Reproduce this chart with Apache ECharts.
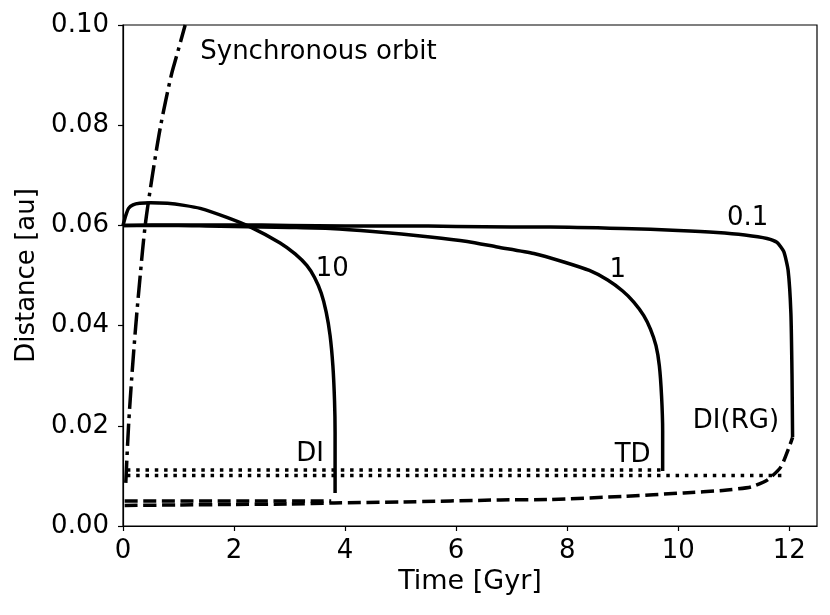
<!DOCTYPE html>
<html>
<head>
<meta charset="utf-8">
<script src="https://cdn.jsdelivr.net/npm/echarts@6.0.0/dist/echarts.min.js"></script>
<style>
  html, body { margin: 0; padding: 0; background: #fff; }
  #main { width: 830px; height: 615px; }
</style>
</head>
<body>
<div id="main"></div>
<script>
// orbital decay tracks, one per tidal efficiency
var x01 = [0, 1, 2, 3, 4, 5, 6, 7, 7.7, 9, 10, 10.7, 11.2, 11.6, 11.78, 11.9, 11.98, 12.03, 12.05, 12.06];
var y01 = [0.0600, 0.0601, 0.0601, 0.0600, 0.0599, 0.0599, 0.0598, 0.0597, 0.0597, 0.0594, 0.0590, 0.0586, 0.0581, 0.0574, 0.0566, 0.0548, 0.0510, 0.0424, 0.0300, 0.0177];

var x1 = [0, 0.5, 1, 1.5, 2, 2.5, 3, 3.73, 4.5, 5.53, 6.2, 6.74, 7.4, 7.94, 8.4, 8.73, 9.0, 9.2, 9.38, 9.5, 9.6, 9.66, 9.7, 9.72, 9.72];
var y1 = [0.0600, 0.0600, 0.0600, 0.0599, 0.0598, 0.0597, 0.0596, 0.0594, 0.0588, 0.0577, 0.0568, 0.0557, 0.0544, 0.0527, 0.0510, 0.0491, 0.0469, 0.0447, 0.0420, 0.0393, 0.0360, 0.0320, 0.0260, 0.0190, 0.0110];

var x10 = [0, 0.02, 0.05, 0.1, 0.18, 0.3, 0.5, 0.8, 1.1, 1.39, 1.87, 2.29, 2.83, 3.1, 3.31, 3.45, 3.57, 3.66, 3.73, 3.78, 3.81, 3.82, 3.82];
var y10 = [0.0600, 0.0608, 0.0620, 0.0634, 0.0641, 0.0644, 0.0645, 0.0644, 0.0640, 0.0634, 0.0616, 0.0597, 0.0565, 0.0543, 0.0520, 0.0496, 0.0465, 0.0427, 0.0380, 0.0320, 0.0250, 0.0186, 0.0066];

// synchronous orbit
var xSync = [0.05, 0.10, 0.16, 0.23, 0.31, 0.40, 0.53, 0.68, 0.87, 0.96, 1.12];
var ySync = [0.0086, 0.020, 0.030, 0.040, 0.050, 0.060, 0.070, 0.080, 0.090, 0.0936, 0.100];

// DI(RG) limit (dashed)
var xRG = [0.03, 1, 2, 3, 3.8, 5, 6.8, 7.7, 9, 10.1, 10.8, 11.31, 11.61, 11.85, 12.0, 12.06];
var yRG = [0.0041, 0.0042, 0.0043, 0.0044, 0.0046, 0.0048, 0.0052, 0.0053, 0.0059, 0.0066, 0.0071, 0.0078, 0.0092, 0.0118, 0.0158, 0.0177];

// short dashed limit, DI
var xDI = [0.03, 3.75];
var yDI = [0.0050, 0.0050];

// dotted limits
var xTD = [0.07, 9.7];
var yTD = [0.0112, 0.0112];
var xTD2 = [0.07, 11.95];
var yTD2 = [0.0101, 0.0101];

// text labels on the plot
var labelText = ['Synchronous orbit', '10', '1', '0.1', 'DI(RG)', 'TD', 'DI'];
var labelX = [3.52, 3.77, 8.91, 11.25, 11.04, 9.18, 3.37];
var labelY = [0.0945, 0.0512, 0.0510, 0.0614, 0.0209, 0.0142, 0.0144];

function pairs(xs, ys) {
    var out = [];
    for (var i = 0; i < xs.length; i++) {
        out.push([xs[i], ys[i]]);
    }
    return out;
}

var FONT = 'DejaVu Sans';
var LW = 3.5;

function track(data, dash, smooth) {
    return {
        type: 'line',
        data: data,
        showSymbol: false,
        symbol: 'none',
        smooth: smooth,
        clip: true,
        lineStyle: { color: '#000', width: LW, type: dash, cap: 'butt', join: 'round' },
        z: 3
    };
}

var labels = [];
for (var i = 0; i < labelText.length; i++) {
    labels.push({ value: [labelX[i], labelY[i]], name: labelText[i] });
}

var dom = document.getElementById('main');
var myChart = echarts.init(dom, null, { renderer: 'canvas' });

var option = {
    animation: false,
    backgroundColor: '#fff',
    grid: {
        left: 123, right: 13, top: 25, bottom: 89,
        show: true, borderColor: '#000', borderWidth: 1.2,
        containLabel: false
    },
    xAxis: {
        type: 'value',
        min: 0, max: 12.5, interval: 2,
        name: 'Time [Gyr]',
        nameLocation: 'middle',
        nameGap: 40,
        nameTextStyle: { fontFamily: FONT, fontSize: 27, color: '#000' },
        axisLine: { show: true, onZero: false, lineStyle: { color: '#000', width: 1.2 } },
        axisTick: { show: true, inside: false, length: 5, lineStyle: { color: '#000', width: 1.2 } },
        axisLabel: { fontFamily: FONT, fontSize: 26, color: '#000', margin: 12, showMaxLabel: false },
        splitLine: { show: false }
    },
    yAxis: {
        type: 'value',
        min: 0, max: 0.1, interval: 0.02,
        name: 'Distance [au]',
        nameLocation: 'middle',
        nameGap: 82,
        nameTextStyle: { fontFamily: FONT, fontSize: 26, color: '#000' },
        axisLine: { show: true, onZero: false, lineStyle: { color: '#000', width: 1.2 } },
        axisTick: { show: true, inside: false, length: 5, lineStyle: { color: '#000', width: 1.2 } },
        axisLabel: {
            fontFamily: FONT, fontSize: 26, color: '#000', margin: 14,
            formatter: function (v) { return v.toFixed(2); }
        },
        splitLine: { show: false }
    },
    series: [
        track(pairs(x01, y01), 'solid', 0.2),
        track(pairs(x1, y1), 'solid', 0.2),
        track(pairs(x10, y10), 'solid', 0.2),
        track(pairs(xSync, ySync), [22.4, 5.6, 3.5, 5.6], 0.3),
        track(pairs(xRG, yRG), [13, 5.6], 0.2),
        track(pairs(xDI, yDI), [13, 5.6], false),
        track(pairs(xTD, yTD), [3.5, 5.8], false),
        track(pairs(xTD2, yTD2), [3.5, 5.8], false),
        {
            type: 'scatter',
            data: labels,
            symbolSize: 0,
            silent: true,
            z: 5,
            itemStyle: { opacity: 1 },
            label: {
                show: true,
                position: 'inside',
                formatter: '{b}',
                fontFamily: FONT,
                fontSize: 26,
                color: '#000',
                opacity: 1
            }
        }
    ]
};

myChart.setOption(option, true);
</script>
</body>
</html>
